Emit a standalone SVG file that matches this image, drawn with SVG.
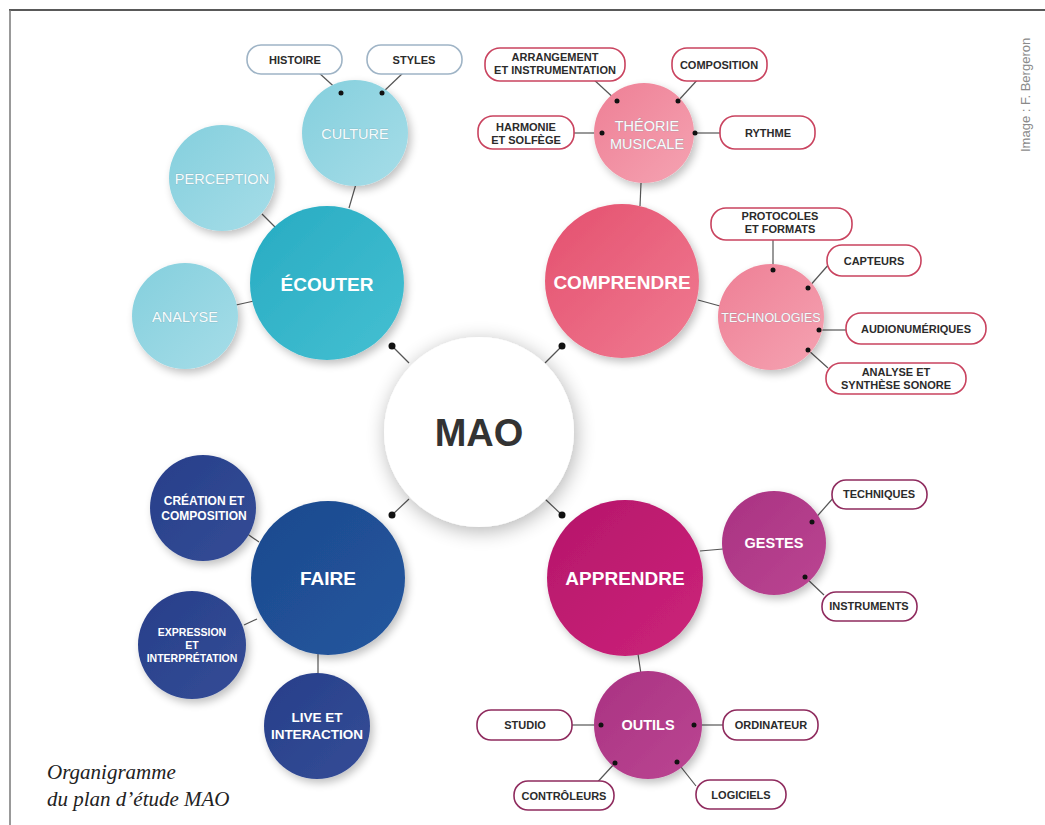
<svg xmlns="http://www.w3.org/2000/svg" width="1045" height="825" viewBox="0 0 1045 825">
  <defs>
    <filter id="shadow" x="-30%" y="-30%" width="160%" height="160%">
      <feGaussianBlur in="SourceAlpha" stdDeviation="4"/>
      <feOffset dx="3" dy="4" result="b"/>
      <feComponentTransfer><feFuncA type="linear" slope="0.25"/></feComponentTransfer>
      <feMerge><feMergeNode/><feMergeNode in="SourceGraphic"/></feMerge>
    </filter>
    <filter id="bigShadow" x="-30%" y="-30%" width="160%" height="160%">
      <feGaussianBlur in="SourceAlpha" stdDeviation="10"/>
      <feOffset dx="2" dy="4" result="b"/>
      <feComponentTransfer><feFuncA type="linear" slope="0.3"/></feComponentTransfer>
      <feMerge><feMergeNode/><feMergeNode in="SourceGraphic"/></feMerge>
    </filter>
    <linearGradient id="gTeal" x1="0" y1="0" x2="1" y2="1">
      <stop offset="0" stop-color="#27abc2"/><stop offset="1" stop-color="#45c0d2"/>
    </linearGradient>
    <linearGradient id="gTealL" x1="0" y1="0" x2="1" y2="1">
      <stop offset="0" stop-color="#84cfdd"/><stop offset="1" stop-color="#a6dde8"/>
    </linearGradient>
    <linearGradient id="gPink" x1="0" y1="0" x2="1" y2="1">
      <stop offset="0" stop-color="#e4506e"/><stop offset="1" stop-color="#f07b92"/>
    </linearGradient>
    <linearGradient id="gPinkL" x1="0" y1="0" x2="1" y2="1">
      <stop offset="0" stop-color="#ee7f95"/><stop offset="1" stop-color="#f5a3b2"/>
    </linearGradient>
    <linearGradient id="gBlue" x1="0" y1="0" x2="1" y2="1">
      <stop offset="0" stop-color="#1c4a8e"/><stop offset="1" stop-color="#24569e"/>
    </linearGradient>
    <linearGradient id="gBlueL" x1="0" y1="0" x2="1" y2="1">
      <stop offset="0" stop-color="#283f8a"/><stop offset="1" stop-color="#334c96"/>
    </linearGradient>
    <linearGradient id="gMag" x1="0" y1="0" x2="1" y2="1">
      <stop offset="0" stop-color="#b5166a"/><stop offset="1" stop-color="#cc237a"/>
    </linearGradient>
    <linearGradient id="gMagL" x1="0" y1="0" x2="1" y2="1">
      <stop offset="0" stop-color="#a93282"/><stop offset="1" stop-color="#bb4692"/>
    </linearGradient>
  </defs>
  <style>
    .lbl { font-family: "Liberation Sans", Arial, sans-serif; font-weight: bold; fill: #fff; text-anchor: middle; }
    .main { font-size: 19px; }
    .sub { font-size: 14.5px; }
    .thin { font-weight: normal; fill: #f6fcfd; stroke: #6c8f99; stroke-width: 0.5; stroke-opacity: 0.6; paint-order: stroke; }
    .pill { fill: #fff; stroke-width: 1.6; }
    .pT { stroke: #9fb4c6; }
    .pP { stroke: #c9435f; }
    .pM { stroke: #8f2b5e; }
    .pt { font-family: "Liberation Sans", Arial, sans-serif; font-weight: bold; font-size: 11px; fill: #2b2b2b; text-anchor: middle; }
    .ln { stroke: #555; stroke-width: 1.2; fill: none; }
    .dot { fill: #111; }
  </style>

  <rect width="1045" height="825" fill="#fff"/>
  <!-- page frame -->
  <line x1="9" y1="10" x2="1045" y2="10" stroke="#222" stroke-width="1.5"/>
  <line x1="10" y1="10" x2="10" y2="825" stroke="#777" stroke-width="1.5"/>

  <!-- connectors -->
  <g id="connectors">
    <!-- hub to main nodes -->
    <line class="ln" x1="392" y1="346" x2="409" y2="363"/>
    <line class="ln" x1="562" y1="346" x2="545" y2="363"/>
    <line class="ln" x1="392" y1="515" x2="409" y2="499"/>
    <line class="ln" x1="562" y1="515" x2="545" y2="499"/>
    <circle class="dot" cx="392" cy="346" r="3.5"/>
    <circle class="dot" cx="562" cy="346" r="3.5"/>
    <circle class="dot" cx="392" cy="515" r="3.5"/>
    <circle class="dot" cx="562" cy="515" r="3.5"/>
    <!-- main to sub nodes -->
    <line class="ln" x1="349" y1="208" x2="356" y2="184"/>
    <line class="ln" x1="262" y1="214" x2="277" y2="229"/>
    <line class="ln" x1="236" y1="305" x2="254" y2="301"/>
    <line class="ln" x1="641" y1="183" x2="640" y2="206"/>
    <line class="ln" x1="698" y1="300" x2="720" y2="306"/>
    <line class="ln" x1="246" y1="533" x2="259" y2="542"/>
    <line class="ln" x1="244" y1="625" x2="257" y2="619"/>
    <line class="ln" x1="318" y1="654" x2="318" y2="676"/>
    <line class="ln" x1="700" y1="551" x2="723" y2="549"/>
    <line class="ln" x1="638" y1="654" x2="641" y2="674"/>
    <!-- sub nodes to keyword tags -->
    <line class="ln" x1="318" y1="72" x2="341" y2="93"/>
    <line class="ln" x1="404" y1="72" x2="382" y2="93"/>
    <line class="ln" x1="592" y1="78" x2="617" y2="101"/>
    <line class="ln" x1="700" y1="77" x2="678" y2="101"/>
    <line class="ln" x1="574" y1="133" x2="602" y2="133"/>
    <line class="ln" x1="720" y1="133" x2="695" y2="133"/>
    <line class="ln" x1="773" y1="240" x2="773" y2="270"/>
    <line class="ln" x1="830" y1="263" x2="808" y2="288"/>
    <line class="ln" x1="846" y1="330" x2="819" y2="330"/>
    <line class="ln" x1="828" y1="368" x2="808" y2="350"/>
    <line class="ln" x1="835" y1="496" x2="812" y2="522"/>
    <line class="ln" x1="824" y1="595" x2="805" y2="577"/>
    <line class="ln" x1="572" y1="725" x2="601" y2="725"/>
    <line class="ln" x1="723" y1="725" x2="694" y2="725"/>
    <line class="ln" x1="593" y1="787" x2="615" y2="763"/>
    <line class="ln" x1="696" y1="786" x2="677" y2="762"/>
  </g>

  <!-- central hub -->
  <g id="mao">
    <circle cx="479" cy="432" r="95" fill="#fff" filter="url(#bigShadow)"/>
    <text x="479" y="446" font-family="Liberation Sans, Arial, sans-serif" font-weight="bold" font-size="38" fill="#333" text-anchor="middle">MAO</text>
  </g>

  <!-- ÉCOUTER branch -->
  <g id="culture">
    <circle cx="355" cy="133" r="53" fill="url(#gTealL)" filter="url(#shadow)"/>
    <text class="lbl sub thin" x="355" y="139">CULTURE</text>
  </g>
  <g id="perception">
    <circle cx="222" cy="178" r="53" fill="url(#gTealL)" filter="url(#shadow)"/>
    <text class="lbl sub thin" x="222" y="184">PERCEPTION</text>
  </g>
  <g id="analyse">
    <circle cx="185" cy="316" r="53" fill="url(#gTealL)" filter="url(#shadow)"/>
    <text class="lbl sub thin" x="185" y="322">ANALYSE</text>
  </g>
  <g id="ecouter">
    <circle cx="327" cy="283" r="77" fill="url(#gTeal)" filter="url(#shadow)"/>
    <text class="lbl main" x="327" y="291">ÉCOUTER</text>
  </g>
  <g id="histoire">
    <rect class="pill pT" x="247" y="45" width="95" height="29" rx="14"/>
    <text class="pt" x="295" y="64">HISTOIRE</text>
  </g>
  <g id="styles">
    <rect class="pill pT" x="367" y="45" width="95" height="29" rx="14"/>
    <text class="pt" x="414" y="64">STYLES</text>
  </g>
  <circle class="dot" cx="341" cy="93" r="2.5"/>
  <circle class="dot" cx="382" cy="93" r="2.5"/>

  <!-- COMPRENDRE branch -->
  <g id="theorie">
    <circle cx="644" cy="133" r="50" fill="url(#gPinkL)" filter="url(#shadow)"/>
    <text class="lbl sub thin" x="647" y="131">THÉORIE</text>
    <text class="lbl sub thin" x="647" y="149">MUSICALE</text>
  </g>
  <g id="technologies">
    <circle cx="771" cy="317" r="53" fill="url(#gPinkL)" filter="url(#shadow)"/>
    <text class="lbl thin" font-size="12.5" x="771" y="322">TECHNOLOGIES</text>
  </g>
  <g id="comprendre">
    <circle cx="622" cy="281" r="77" fill="url(#gPink)" filter="url(#shadow)"/>
    <text class="lbl main" x="622" y="289">COMPRENDRE</text>
  </g>
  <g id="arrangement">
    <rect class="pill pP" x="485" y="48" width="140" height="33" rx="15"/>
    <text class="pt" x="555" y="61">ARRANGEMENT</text>
    <text class="pt" x="555" y="74">ET INSTRUMENTATION</text>
  </g>
  <g id="composition-tag">
    <rect class="pill pP" x="672" y="48" width="95" height="33" rx="15"/>
    <text class="pt" x="719" y="69">COMPOSITION</text>
  </g>
  <g id="harmonie">
    <rect class="pill pP" x="478" y="116" width="96" height="33" rx="15"/>
    <text class="pt" x="526" y="131">HARMONIE</text>
    <text class="pt" x="526" y="144">ET SOLFÈGE</text>
  </g>
  <g id="rythme">
    <rect class="pill pP" x="720" y="116" width="95" height="33" rx="15"/>
    <text class="pt" x="768" y="137">RYTHME</text>
  </g>
  <g id="protocoles">
    <rect class="pill pP" x="711" y="208" width="141" height="32" rx="15"/>
    <text class="pt" x="780" y="220">PROTOCOLES</text>
    <text class="pt" x="780" y="233">ET FORMATS</text>
  </g>
  <g id="capteurs">
    <rect class="pill pP" x="827" y="245" width="94" height="31" rx="15"/>
    <text class="pt" x="874" y="265">CAPTEURS</text>
  </g>
  <g id="audionumeriques">
    <rect class="pill pP" x="846" y="313" width="140" height="31" rx="15"/>
    <text class="pt" x="916" y="333">AUDIONUMÉRIQUES</text>
  </g>
  <g id="synthese">
    <rect class="pill pP" x="826" y="363" width="140" height="31" rx="15"/>
    <text class="pt" x="896" y="376">ANALYSE ET</text>
    <text class="pt" x="896" y="389">SYNTHÈSE SONORE</text>
  </g>
  <circle class="dot" cx="617" cy="101" r="2.5"/>
  <circle class="dot" cx="678" cy="101" r="2.5"/>
  <circle class="dot" cx="602" cy="133" r="2.5"/>
  <circle class="dot" cx="695" cy="133" r="2.5"/>
  <circle class="dot" cx="773" cy="270" r="2.5"/>
  <circle class="dot" cx="808" cy="288" r="2.5"/>
  <circle class="dot" cx="819" cy="330" r="2.5"/>
  <circle class="dot" cx="808" cy="350" r="2.5"/>

  <!-- FAIRE branch -->
  <g id="creation">
    <circle cx="203" cy="508" r="53" fill="url(#gBlueL)" filter="url(#shadow)"/>
    <text class="lbl" font-size="12" x="204" y="505">CRÉATION ET</text>
    <text class="lbl" font-size="12" x="204" y="520">COMPOSITION</text>
  </g>
  <g id="expression">
    <circle cx="192" cy="645" r="54" fill="url(#gBlueL)" filter="url(#shadow)"/>
    <text class="lbl" font-size="10.5" x="192" y="636">EXPRESSION</text>
    <text class="lbl" font-size="10.5" x="192" y="649">ET</text>
    <text class="lbl" font-size="10.5" x="192" y="662">INTERPRÉTATION</text>
  </g>
  <g id="live">
    <circle cx="317" cy="726" r="53" fill="url(#gBlueL)" filter="url(#shadow)"/>
    <text class="lbl" font-size="13.5" x="317" y="722">LIVE ET</text>
    <text class="lbl" font-size="13.5" x="317" y="739">INTERACTION</text>
  </g>
  <g id="faire">
    <circle cx="328" cy="578" r="77" fill="url(#gBlue)" filter="url(#shadow)"/>
    <text class="lbl main" x="328" y="585">FAIRE</text>
  </g>

  <!-- APPRENDRE branch -->
  <g id="gestes">
    <circle cx="774" cy="543" r="52" fill="url(#gMagL)" filter="url(#shadow)"/>
    <text class="lbl sub" x="774" y="548">GESTES</text>
  </g>
  <g id="outils">
    <circle cx="648" cy="725" r="54" fill="url(#gMagL)" filter="url(#shadow)"/>
    <text class="lbl sub" x="648" y="730">OUTILS</text>
  </g>
  <g id="apprendre">
    <circle cx="625" cy="578" r="78" fill="url(#gMag)" filter="url(#shadow)"/>
    <text class="lbl main" x="625" y="585">APPRENDRE</text>
  </g>
  <g id="techniques">
    <rect class="pill pM" x="832" y="480" width="95" height="29" rx="14"/>
    <text class="pt" x="879" y="498">TECHNIQUES</text>
  </g>
  <g id="instruments">
    <rect class="pill pM" x="822" y="592" width="95" height="29" rx="14"/>
    <text class="pt" x="869" y="610">INSTRUMENTS</text>
  </g>
  <g id="studio">
    <rect class="pill pM" x="477" y="710" width="95" height="30" rx="14"/>
    <text class="pt" x="525" y="729">STUDIO</text>
  </g>
  <g id="ordinateur">
    <rect class="pill pM" x="723" y="710" width="95" height="30" rx="14"/>
    <text class="pt" x="771" y="729">ORDINATEUR</text>
  </g>
  <g id="controleurs">
    <rect class="pill pM" x="514" y="781" width="100" height="29" rx="14"/>
    <text class="pt" x="564" y="800">CONTRÔLEURS</text>
  </g>
  <g id="logiciels">
    <rect class="pill pM" x="696" y="780" width="90" height="29" rx="14"/>
    <text class="pt" x="741" y="799">LOGICIELS</text>
  </g>
  <circle class="dot" cx="812" cy="522" r="2.5"/>
  <circle class="dot" cx="805" cy="577" r="2.5"/>
  <circle class="dot" cx="601" cy="725" r="2.5"/>
  <circle class="dot" cx="694" cy="725" r="2.5"/>
  <circle class="dot" cx="615" cy="763" r="2.5"/>
  <circle class="dot" cx="677" cy="762" r="2.5"/>

  <!-- caption and credit -->
  <text x="47" y="779" font-family="Liberation Serif, serif" font-style="italic" font-size="21" fill="#222">Organigramme</text>
  <text x="47" y="806" font-family="Liberation Serif, serif" font-style="italic" font-size="21" fill="#222">du plan d’étude MAO</text>
  <text transform="translate(1030 152) rotate(-90)" font-family="Liberation Sans, Arial, sans-serif" font-size="13" fill="#8a8a8a">Image : F. Bergeron</text>
</svg>
